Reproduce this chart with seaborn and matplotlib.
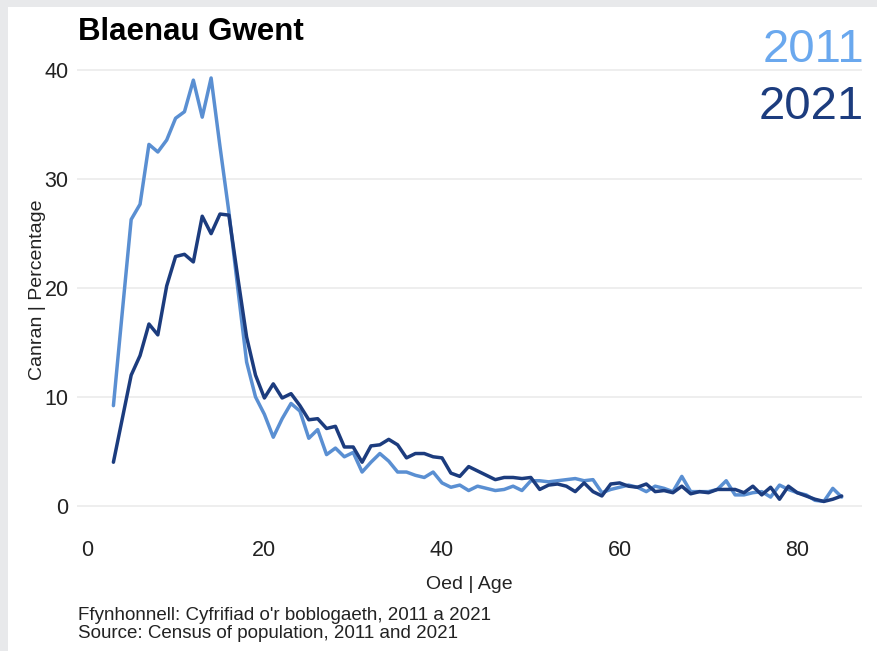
import numpy as np
import pandas as pd
import seaborn as sns
import matplotlib.pyplot as plt
from matplotlib.patches import Rectangle

ages = list(range(3, 86))

pct_2011 = [9.2, 17.8, 26.3, 27.7, 33.2, 32.5, 33.6, 35.6, 36.2, 39.1,
            35.7, 39.3, 33.0, 27.0, 20.0, 13.2, 10.0, 8.4, 6.3, 8.0,
            9.4, 8.7, 6.2, 7.0, 4.7, 5.3, 4.5, 4.9, 3.1, 4.0,
            4.8, 4.1, 3.1, 3.1, 2.8, 2.6, 3.1, 2.1, 1.7, 1.9,
            1.4, 1.8, 1.6, 1.4, 1.5, 1.8, 1.4, 2.3, 2.3, 2.2,
            2.3, 2.4, 2.5, 2.3, 2.4, 1.2, 1.5, 1.7, 1.9, 1.7,
            1.3, 1.8, 1.6, 1.3, 2.7, 1.3, 1.3, 1.3, 1.5, 2.3,
            1.0, 1.0, 1.2, 1.3, 0.8, 1.9, 1.5, 1.2, 1.0, 0.5,
            0.4, 1.6, 0.8]

pct_2021 = [4.0, 8.0, 12.0, 13.8, 16.7, 15.7, 20.2, 22.9, 23.1, 22.4,
            26.6, 25.0, 26.8, 26.7, 21.0, 15.5, 12.0, 9.9, 11.2, 9.9,
            10.3, 9.2, 7.9, 8.0, 7.1, 7.3, 5.4, 5.4, 4.0, 5.5,
            5.6, 6.1, 5.6, 4.4, 4.8, 4.8, 4.5, 4.4, 3.0, 2.7,
            3.6, 3.2, 2.8, 2.4, 2.6, 2.6, 2.5, 2.6, 1.5, 1.9,
            2.0, 1.8, 1.3, 2.1, 1.3, 0.9, 2.0, 2.1, 1.8, 1.7,
            2.0, 1.3, 1.4, 1.2, 1.8, 1.1, 1.3, 1.2, 1.5, 1.5,
            1.5, 1.2, 1.8, 1.0, 1.7, 0.6, 1.8, 1.2, 0.9, 0.6,
            0.4, 0.6, 0.9]

years = ["2011", "2021"]
line_colors = {"2011": "#5a8fd2", "2021": "#1c3c7e"}
label_colors = {"2011": "#6aa8ee", "2021": "#1c3c7e"}

df = pd.concat([
    pd.DataFrame({"age": ages, "pct": pct_2011, "year": "2011"}),
    pd.DataFrame({"age": ages, "pct": pct_2021, "year": "2021"}),
])

sns.set_style("white")
plt.rcParams["font.family"] = ["Liberation Sans", "DejaVu Sans"]

fig = plt.figure(figsize=(8.77, 6.51), dpi=100)
fig.patch.set_facecolor("#e8e9eb")
# white panel with a thin grey frame on the top and left
fig.add_artist(Rectangle((8 / 877, 0), 1, (651 - 7) / 651,
                         transform=fig.transFigure, facecolor="white",
                         edgecolor="none", zorder=0))

ax = fig.add_axes([0.0878, 0.198, 0.983 - 0.0878, 0.912 - 0.198])
ax.set_facecolor("none")

sns.lineplot(data=df, x="age", y="pct", hue="year", palette=line_colors,
             linewidth=2.5, legend=False, ax=ax)

ax.set_xlim(-1.1, 87.3)
ax.set_ylim(-1.5, 41.2)
ax.set_xticks([0, 20, 40, 60, 80])
ax.set_yticks([0, 10, 20, 30, 40])
ax.yaxis.grid(True, color="#ebebeb", linewidth=1.2)
ax.xaxis.grid(False)
for s in ax.spines.values():
    s.set_visible(False)
ax.tick_params(axis="both", length=0, labelsize=15.5, colors="#222222")
ax.tick_params(axis="x", pad=13)
ax.tick_params(axis="y", pad=6)

ax.set_xlabel("Oed | Age", fontsize=14, color="#222222", labelpad=11)
ax.set_ylabel("Canran | Percentage", fontsize=14, color="#222222", labelpad=-1)

fig.text(78 / 877, 1 - 32 / 651, "Blaenau Gwent", fontsize=22.5, fontweight="bold",
         va="center", ha="left", color="black")
fig.text(864 / 877, 1 - 50 / 651, "2011", fontsize=34, color=label_colors["2011"],
         ha="right", va="center")
fig.text(864 / 877, 1 - 107 / 651, "2021", fontsize=34, color=label_colors["2021"],
         ha="right", va="center")

fig.text(78 / 877, 1 - 615 / 651, "Ffynhonnell: Cyfrifiad o'r boblogaeth, 2011 a 2021",
         fontsize=13.5, color="#222222", va="center")
fig.text(78 / 877, 1 - 633 / 651, "Source: Census of population, 2011 and 2021",
         fontsize=13.5, color="#222222", va="center")

fig.savefig("out.png", dpi=100, facecolor=fig.get_facecolor())
